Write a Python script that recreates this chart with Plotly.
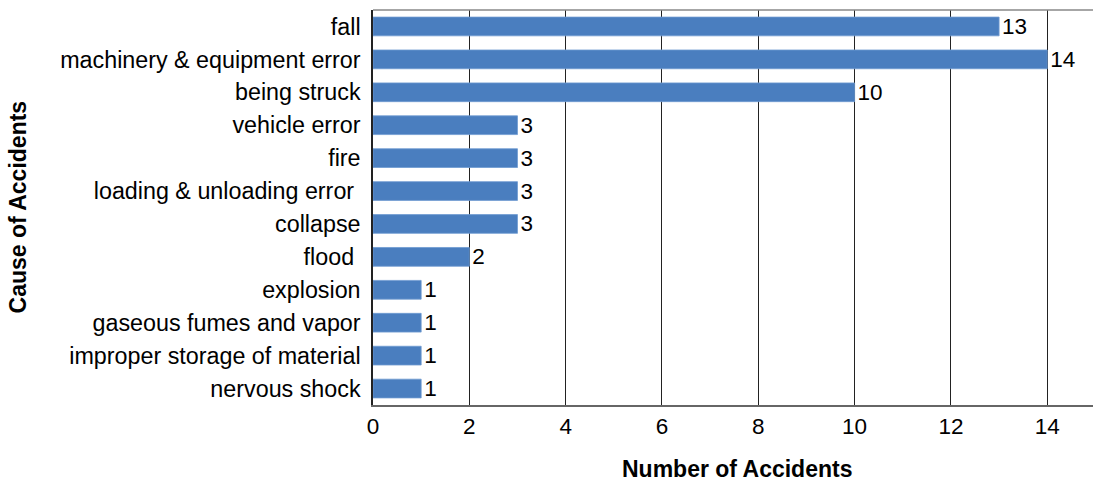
import plotly.graph_objects as go

categories = ["fall", "machinery & equipment error", "being struck", "vehicle error", "fire",
              "loading & unloading error\u00a0", "collapse", "flood\u00a0", "explosion",
              "gaseous fumes and vapor", "improper storage of material", "nervous shock"]
values = [13, 14, 10, 3, 3, 3, 3, 2, 1, 1, 1, 1]
tick_vals = [0, 2, 4, 6, 8, 10, 12, 14]

W, H = 1093, 482
L, R, T, B = 372.7, 0, 10, 77
pw, ph = W - L - R, H - T - B
FONT = "Liberation Sans, Arial"

fig = go.Figure(go.Bar(
    y=categories, x=values, orientation="h",
    marker=dict(color="#4a7ebf", line=dict(color="#6f9bd1", width=0.8)),
    width=0.57,
    text=[str(v) for v in values], textposition="outside",
    textfont=dict(family=FONT, size=22.5, color="#000"),
    constraintext="none",
    cliponaxis=False,
))
fig.update_layout(
    width=W, height=H,
    margin=dict(l=L, r=R, t=T, b=B),
    plot_bgcolor="white", paper_bgcolor="white",
    showlegend=False,
    font=dict(family=FONT, size=23, color="#000"),
    xaxis=dict(range=[0, 14.95], tickvals=tick_vals, showgrid=True, gridcolor="#222",
               gridwidth=1, zeroline=False, showline=True, linecolor="#666", linewidth=1.5,
               ticks="", ticklen=0, ticklabelstandoff=0,
               tickfont=dict(size=22.5)),
    yaxis=dict(categoryorder="array", categoryarray=categories[::-1], autorange=False,
               range=[-0.5, len(categories) - 0.5],
               showline=True, linecolor="#222", linewidth=1.5, ticks="", ticklen=0,
               ticklabelstandoff=6,
               showgrid=False, tickfont=dict(size=23.3)),
    annotations=[
        dict(text="<b>Cause of Accidents</b>", textangle=-90, xref="paper", yref="paper",
             x=(18 - L) / pw, y=(H - B - 207) / ph, showarrow=False,
             xanchor="center", yanchor="middle", font=dict(size=23)),
        dict(text="<b>Number of Accidents</b>", xref="paper", yref="paper",
             x=(737 - L) / pw, y=(H - B - 469) / ph, showarrow=False,
             xanchor="center", yanchor="middle", font=dict(size=23)),
    ],
)
fig.add_shape(type="line", xref="paper", yref="paper", x0=0, x1=1, y0=1, y1=1,
              line=dict(color="#888", width=1.5))
fig.write_html("out.html", config={"displayModeBar": False},
               post_script="document.body.style.margin='0';")
